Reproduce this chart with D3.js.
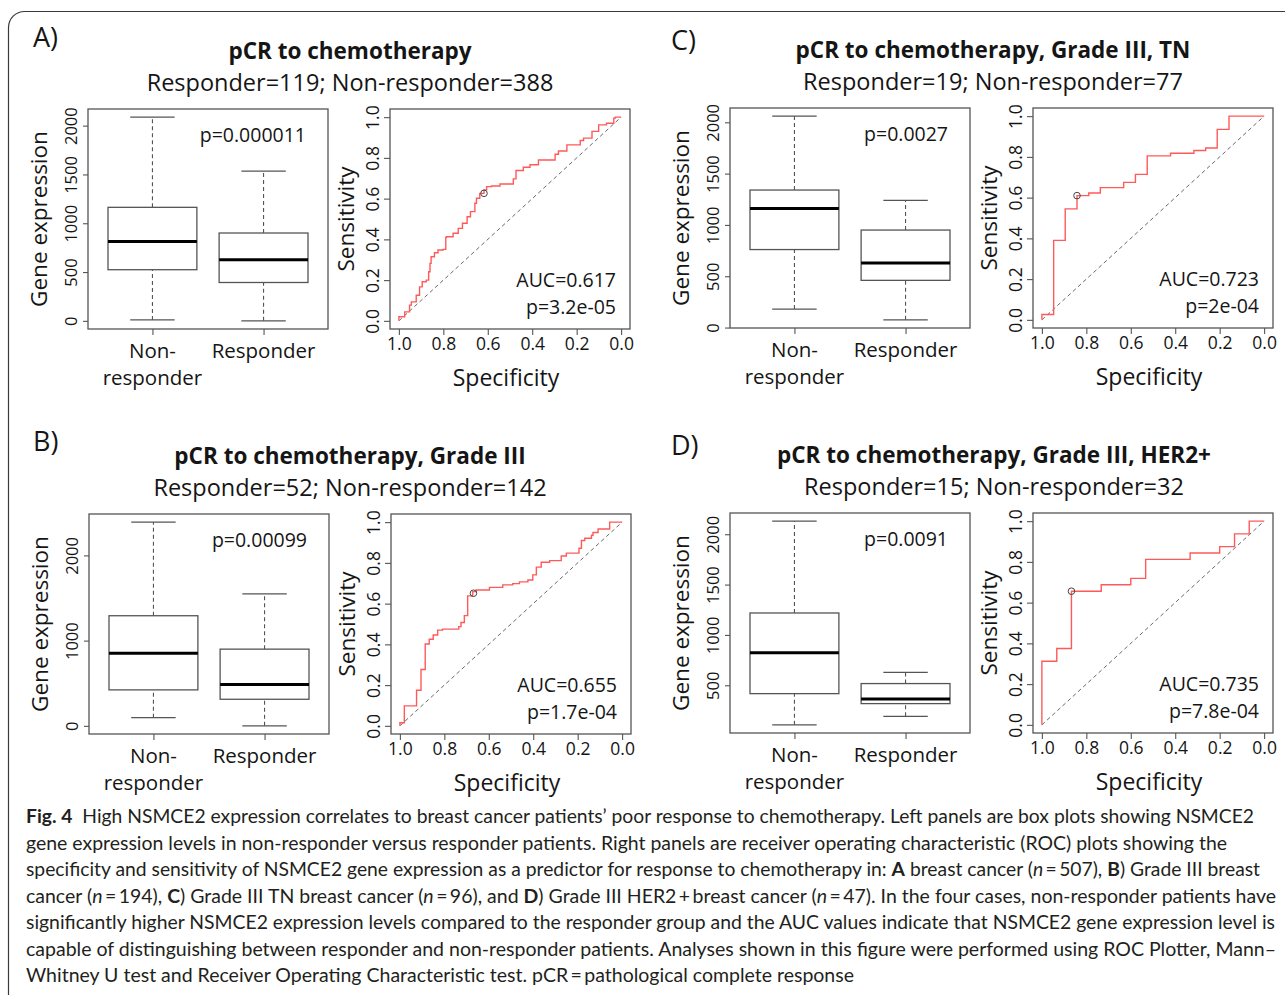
<!DOCTYPE html>
<html>
<head>
<meta charset="utf-8">
<script src="https://cdn.jsdelivr.net/npm/d3@7"></script>
<style>
  body { margin: 0; background: #fff; }
  svg text { font-family: 'Open Sans', sans-serif; fill: #151515; }
  svg text.cap { font-family: Lato, 'Open Sans', sans-serif; fill: #231f20; white-space: pre; }
</style>
</head>
<body>
<svg></svg>
<script>
const w = 1285;
const h = 995;

// ---- data ----
const panelIds = ['A', 'B', 'C', 'D'];
const titles = [
  'pCR to chemotherapy',
  'pCR to chemotherapy, Grade III',
  'pCR to chemotherapy, Grade III, TN',
  'pCR to chemotherapy, Grade III, HER2+'
];
const subtitles = [
  'Responder=119; Non-responder=388',
  'Responder=52; Non-responder=142',
  'Responder=19; Non-responder=77',
  'Responder=15; Non-responder=32'
];
const groupLabels = [['Non-', 'responder'], ['Responder']];

// [lower whisker, Q1, median, Q3, upper whisker]
const boxNonResponder = [
  [10, 524, 814, 1163, 2087],
  [96, 422, 853, 1292, 2390],
  [180, 760, 1160, 1340, 2060],
  [107, 417, 824, 1218, 2130]
];
const boxResponder = [
  [0, 393, 626, 900, 1533],
  [0, 312, 484, 900, 1548],
  [75, 460, 630, 950, 1240],
  [192, 318, 364, 517, 629]
];
const boxTicks = [
  [0, 500, 1000, 1500, 2000],
  [0, 1000, 2000],
  [0, 500, 1000, 1500, 2000],
  [500, 1000, 1500, 2000]
];
const mwPValues = ['p=0.000011', 'p=0.00099', 'p=0.0027', 'p=0.0091'];

const rocTicks = [1.0, 0.8, 0.6, 0.4, 0.2, 0.0];
const aucLabels = ['AUC=0.617', 'AUC=0.655', 'AUC=0.723', 'AUC=0.735'];
const rocPValues = ['p=3.2e-05', 'p=1.7e-04', 'p=2e-04', 'p=7.8e-04'];

// [specificity, sensitivity]
const rocA = [[1, 0], [0.974, 0.02], [0.952, 0.044], [0.944, 0.077], [0.922, 0.093], [0.907, 0.126],
  [0.895, 0.167], [0.877, 0.192], [0.866, 0.2], [0.86, 0.241], [0.855, 0.282], [0.84, 0.315],
  [0.824, 0.334], [0.801, 0.348], [0.789, 0.351], [0.786, 0.41], [0.756, 0.413], [0.733, 0.43],
  [0.714, 0.454], [0.693, 0.479], [0.678, 0.511], [0.658, 0.536], [0.651, 0.577], [0.636, 0.602],
  [0.617, 0.626], [0.605, 0.643], [0.583, 0.659], [0.545, 0.662], [0.485, 0.672], [0.473, 0.697],
  [0.44, 0.738], [0.41, 0.754], [0.372, 0.766], [0.297, 0.79], [0.282, 0.818], [0.244, 0.834],
  [0.184, 0.864], [0.169, 0.885], [0.131, 0.897], [0.101, 0.93], [0.066, 0.962], [0.033, 0.97],
  [0.026, 0.995], [0, 1]];
const rocB = [[1, 0], [1, 0.015], [0.98, 0.015], [0.98, 0.098], [0.925, 0.098], [0.925, 0.175],
  [0.905, 0.175], [0.905, 0.277], [0.886, 0.277], [0.886, 0.402], [0.868, 0.402], [0.85, 0.425],
  [0.83, 0.446], [0.808, 0.47], [0.735, 0.475], [0.725, 0.487], [0.71, 0.507], [0.695, 0.541],
  [0.695, 0.634], [0.672, 0.638], [0.657, 0.659], [0.597, 0.667], [0.537, 0.68], [0.492, 0.692],
  [0.462, 0.698], [0.424, 0.707], [0.402, 0.716], [0.386, 0.741], [0.364, 0.779], [0.326, 0.803],
  [0.274, 0.811], [0.251, 0.834], [0.194, 0.848], [0.183, 0.872], [0.168, 0.91], [0.138, 0.921],
  [0.131, 0.936], [0.108, 0.949], [0.056, 0.966], [0.056, 1], [0, 1]];
const rocC = [[1, 0], [1, 0.026], [0.947, 0.026], [0.947, 0.39], [0.895, 0.39], [0.895, 0.545],
  [0.842, 0.545], [0.842, 0.61], [0.789, 0.61], [0.789, 0.623], [0.737, 0.623], [0.737, 0.649],
  [0.632, 0.649], [0.632, 0.675], [0.579, 0.675], [0.579, 0.714], [0.526, 0.714], [0.526, 0.805],
  [0.421, 0.805], [0.421, 0.818], [0.316, 0.818], [0.316, 0.831], [0.263, 0.831], [0.263, 0.844],
  [0.211, 0.844], [0.211, 0.935], [0.158, 0.935], [0.158, 1], [0, 1]];
const rocD = [[1, 0], [1, 0.3125], [0.933, 0.3125], [0.933, 0.375], [0.867, 0.375], [0.867, 0.656],
  [0.733, 0.656], [0.733, 0.688], [0.6, 0.688], [0.6, 0.719], [0.533, 0.719], [0.533, 0.8125],
  [0.333, 0.8125], [0.333, 0.844], [0.2, 0.844], [0.2, 0.875], [0.133, 0.875], [0.133, 0.9375],
  [0.067, 0.9375], [0.067, 1], [0, 1]];
const rocCurves = [rocA, rocB, rocC, rocD];
const bestPoints = [[0.617, 0.626], [0.669, 0.651], [0.842, 0.61], [0.867, 0.656]];

const captionLines = [
  [['Fig. 4', 'b'], ['  High NSMCE2 expression correlates to breast cancer patients\u2019 poor response to chemotherapy. Left panels are box plots showing NSMCE2', '']],
  [['gene expression levels in non-responder versus responder patients. Right panels are receiver operating characteristic (ROC) plots showing the', '']],
  [['specificity and sensitivity of NSMCE2 gene expression as a predictor for response to chemotherapy in: ', ''], ['A', 'b'], [' breast cancer (', ''], ['n', 'i'], ['\u2009=\u2009507), ', ''], ['B', 'b'], [') Grade III breast', '']],
  [['cancer (', ''], ['n', 'i'], ['\u2009=\u2009194), ', ''], ['C', 'b'], [') Grade III TN breast cancer (', ''], ['n', 'i'], ['\u2009=\u200996), and ', ''], ['D', 'b'], [') Grade III HER2\u2009+\u2009breast cancer (', ''], ['n', 'i'], ['\u2009=\u200947). In the four cases, non-responder patients have', '']],
  [['significantly higher NSMCE2 expression levels compared to the responder group and the AUC values indicate that NSMCE2 gene expression level is', '']],
  [['capable of distinguishing between responder and non-responder patients. Analyses shown in this figure were performed using ROC Plotter, Mann\u2013', '']],
  [['Whitney U test and Receiver Operating Characteristic test. pCR\u2009=\u2009pathological complete response', '']]
];

// ---- layout ----
const pw = 240;
const ph = 220;
const layout = [
  { bx: 88, rx: 390, ty: 109, cx: 350, lx: 33, ly: 47 },
  { bx: 89, rx: 391, ty: 514, cx: 350, lx: 33, ly: 451 },
  { bx: 730, rx: 1033, ty: 108, cx: 993, lx: 671, ly: 50 },
  { bx: 730, rx: 1033, ty: 513, cx: 994, lx: 671, ly: 455 }
];
const grey = '#555';

const svg = d3.select('svg').attr('width', w).attr('height', h);
svg.append('rect').attr('width', w).attr('height', h).attr('fill', '#fff');
svg.append('rect')
  .attr('x', 8.5).attr('y', 11.5)
  .attr('width', 1400).attr('height', 1100)
  .attr('rx', 16)
  .attr('fill', 'none').attr('stroke', '#3a3a3a').attr('stroke-width', 1.2);

function styleAxis(a) {
  a.attr('font-size', null).attr('font-family', null);
  a.select('.domain').remove();
  a.selectAll('line').attr('stroke', grey).attr('stroke-width', 1.1);
  a.selectAll('text').attr('fill', '#151515');
}

function rotateLabels(a, size) {
  a.selectAll('text')
    .attr('transform', 'rotate(-90)')
    .attr('x', 0).attr('y', -11).attr('dy', 0)
    .attr('text-anchor', 'middle')
    .attr('font-size', size);
}

function drawBox(i) {
  const L = layout[i];
  const stats = [boxNonResponder[i], boxResponder[i]];
  const lo = d3.min(stats, (d) => d[0]);
  const hi = d3.max(stats, (d) => d[4]);
  const pad = (hi - lo) * 0.04;
  const y = d3.scaleLinear().domain([lo - pad, hi + pad]).range([L.ty + ph, L.ty]);
  const x = d3.scaleLinear().domain([0.42, 2.58]).range([L.bx, L.bx + pw]);
  const g = svg.append('g');

  const boxes = g.selectAll('g.box').data(stats).enter().append('g');
  boxes.each(function (d, k) {
    const b = d3.select(this);
    const p = k + 1;
    [[d[3], d[4]], [d[0], d[1]]].forEach(([a, c]) => {
      b.append('line')
        .attr('x1', x(p)).attr('x2', x(p))
        .attr('y1', y(a)).attr('y2', y(c))
        .attr('stroke', grey).attr('stroke-width', 1.1)
        .attr('stroke-dasharray', '4,3');
    });
    [d[0], d[4]].forEach((v) => {
      b.append('line')
        .attr('x1', x(p - 0.2)).attr('x2', x(p + 0.2))
        .attr('y1', y(v)).attr('y2', y(v))
        .attr('stroke', grey).attr('stroke-width', 1.3);
    });
    b.append('rect')
      .attr('x', x(p - 0.4)).attr('y', y(d[3]))
      .attr('width', x(p + 0.4) - x(p - 0.4))
      .attr('height', y(d[1]) - y(d[3]))
      .attr('fill', '#fff').attr('stroke', grey).attr('stroke-width', 1.3);
    b.append('line')
      .attr('x1', x(p - 0.4)).attr('x2', x(p + 0.4))
      .attr('y1', y(d[2])).attr('y2', y(d[2]))
      .attr('stroke', '#000').attr('stroke-width', 3);
  });

  g.append('rect')
    .attr('x', L.bx).attr('y', L.ty).attr('width', pw).attr('height', ph)
    .attr('fill', 'none').attr('stroke', grey).attr('stroke-width', 1.3);

  g.append('g')
    .attr('transform', `translate(${L.bx},0)`)
    .call(d3.axisLeft(y).tickValues(boxTicks[i]).tickSize(5).tickFormat(d3.format('d')))
    .call(styleAxis)
    .call((a) => rotateLabels(a, 16.5));

  g.append('g')
    .attr('transform', `translate(0,${L.ty + ph})`)
    .call(d3.axisBottom(x).tickValues([1, 2]).tickSize(6).tickFormat(''))
    .call(styleAxis);

  groupLabels.forEach((lines, k) => {
    lines.forEach((t, j) => {
      g.append('text')
        .attr('x', x(k + 1)).attr('y', L.ty + 249 + j * 27)
        .attr('text-anchor', 'middle').attr('font-size', 20.5)
        .text(t);
    });
  });

  g.append('text')
    .attr('transform', `translate(${L.bx - 41},${L.ty + ph / 2}) rotate(-90)`)
    .attr('text-anchor', 'middle').attr('font-size', 22.5)
    .text('Gene expression');

  g.append('text')
    .attr('x', L.bx + pw - 22).attr('y', L.ty + 32.5)
    .attr('text-anchor', 'end').attr('font-size', 19.5)
    .text(mwPValues[i]);
}

function drawRoc(i) {
  const L = layout[i];
  const x = d3.scaleLinear().domain([1.04, -0.04]).range([L.rx, L.rx + pw]);
  const y = d3.scaleLinear().domain([-0.04, 1.04]).range([L.ty + ph, L.ty]);
  const g = svg.append('g');

  g.append('line')
    .attr('x1', x(1)).attr('y1', y(0))
    .attr('x2', x(0)).attr('y2', y(1))
    .attr('stroke', '#6a6a6a').attr('stroke-width', 1)
    .attr('stroke-dasharray', '4,3');

  const line = d3.line()
    .x((d) => x(d[0]))
    .y((d) => y(d[1]))
    .curve(d3.curveStepBefore);
  g.append('path')
    .datum(rocCurves[i])
    .attr('d', line)
    .attr('fill', 'none').attr('stroke', '#ff5a5a').attr('stroke-width', 1.4);

  g.append('circle')
    .attr('cx', x(bestPoints[i][0])).attr('cy', y(bestPoints[i][1]))
    .attr('r', 3.3)
    .attr('fill', 'none').attr('stroke', '#444').attr('stroke-width', 1);

  g.append('rect')
    .attr('x', L.rx).attr('y', L.ty).attr('width', pw).attr('height', ph)
    .attr('fill', 'none').attr('stroke', grey).attr('stroke-width', 1.3);

  g.append('g')
    .attr('transform', `translate(0,${L.ty + ph})`)
    .call(d3.axisBottom(x).tickValues(rocTicks).tickSize(6).tickFormat(d3.format('.1f')))
    .call(styleAxis)
    .call((a) => a.selectAll('text').attr('font-size', 17.5).attr('y', 9));

  g.append('g')
    .attr('transform', `translate(${L.rx},0)`)
    .call(d3.axisLeft(y).tickValues(rocTicks).tickSize(6).tickFormat(d3.format('.1f')))
    .call(styleAxis)
    .call((a) => rotateLabels(a, 17.5));

  g.append('text')
    .attr('transform', `translate(${L.rx - 36},${L.ty + ph / 2}) rotate(-90)`)
    .attr('text-anchor', 'middle').attr('font-size', 22.5)
    .text('Sensitivity');

  g.append('text')
    .attr('x', L.rx + 116).attr('y', L.ty + 277)
    .attr('text-anchor', 'middle').attr('font-size', 23)
    .text('Specificity');

  g.append('text')
    .attr('x', L.rx + pw - 14).attr('y', L.ty + 178)
    .attr('text-anchor', 'end').attr('font-size', 19.5)
    .text(aucLabels[i]);
  g.append('text')
    .attr('x', L.rx + pw - 14).attr('y', L.ty + 205)
    .attr('text-anchor', 'end').attr('font-size', 19.5)
    .text(rocPValues[i]);
}

panelIds.forEach((id, i) => {
  const L = layout[i];
  svg.append('text')
    .attr('x', L.lx).attr('y', L.ly)
    .attr('font-size', 27)
    .text(id + ')');
  svg.append('text')
    .attr('x', L.cx).attr('y', L.ty - 50)
    .attr('text-anchor', 'middle').attr('font-size', 22.5).attr('font-weight', 700)
    .text(titles[i]);
  svg.append('text')
    .attr('x', L.cx).attr('y', L.ty - 18.5)
    .attr('text-anchor', 'middle').attr('font-size', 23.5)
    .text(subtitles[i]);
  drawBox(i);
  drawRoc(i);
});

// caption
const capEnds = [1254, 1227, 1260, 1276, 1275, 1276, 854];
captionLines.forEach((segs, j) => {
  const t = svg.append('text')
    .attr('class', 'cap')
    .attr('x', 26).attr('y', 823 + j * 26.5)
    .attr('font-size', 18.5)
    .attr('textLength', capEnds[j] - 26)
    .attr('lengthAdjust', 'spacingAndGlyphs');
  segs.forEach(([s, f]) => {
    t.append('tspan')
      .attr('font-weight', f === 'b' ? 700 : null)
      .attr('font-style', f === 'i' ? 'italic' : null)
      .text(s);
  });
});
</script>
</body>
</html>
